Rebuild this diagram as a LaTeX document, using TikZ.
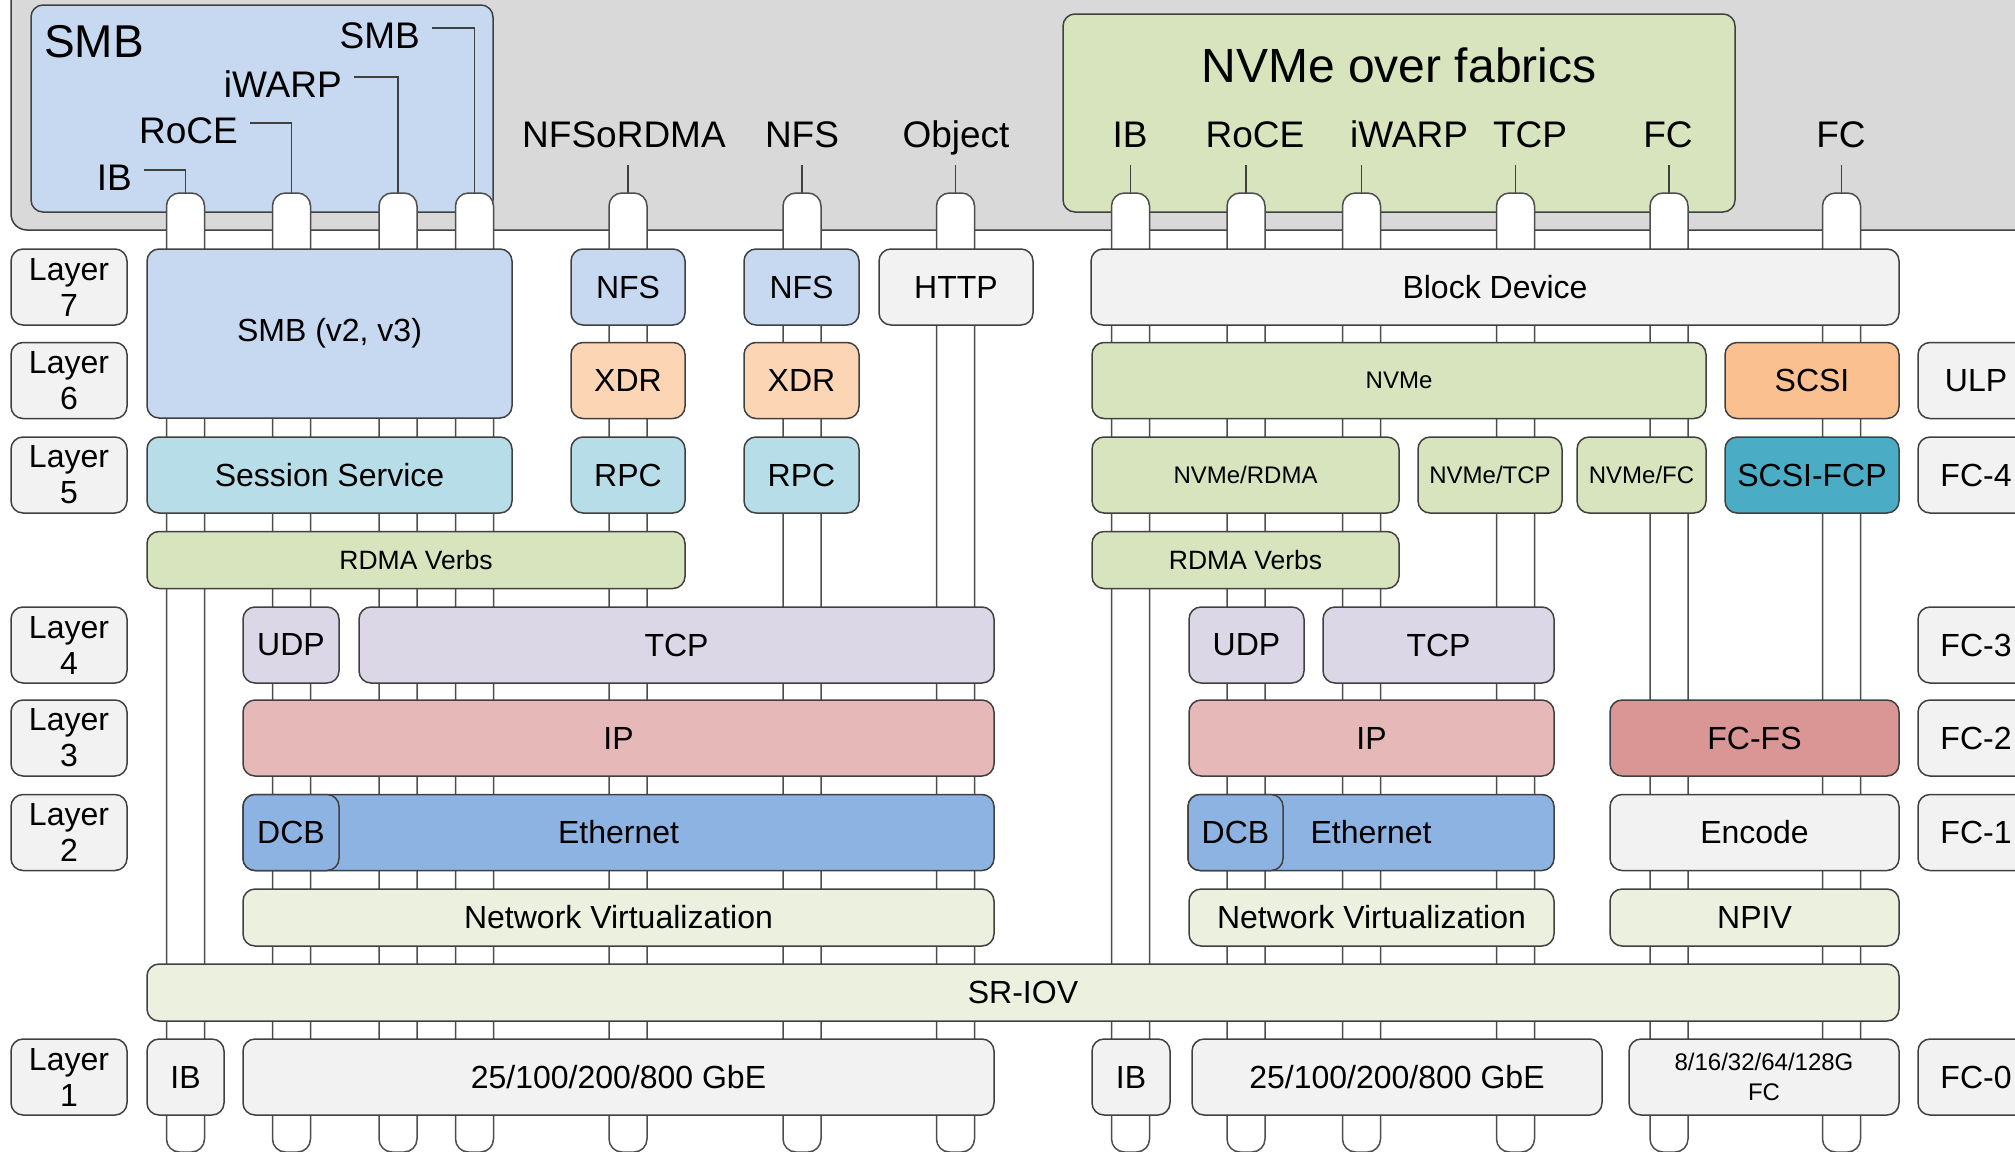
\documentclass[tikz,border=0pt]{standalone}
\usepackage{fontspec}
\setmainfont{Liberation Sans}
\definecolor{bggrey}{HTML}{D9D9D9}
\definecolor{edge}{HTML}{404040}
\definecolor{pipeline}{HTML}{4D4D4D}
\definecolor{smbblue}{HTML}{C6D9F1}
\definecolor{xdrpeach}{HTML}{FCD5B5}
\definecolor{rpccyan}{HTML}{B7DEE8}
\definecolor{verbgreen}{HTML}{D7E4BD}
\definecolor{tcplilac}{HTML}{DCD7E6}
\definecolor{ippink}{HTML}{E6B9B8}
\definecolor{ethblue}{HTML}{8DB3E2}
\definecolor{virtgreen}{HTML}{EBF1DE}
\definecolor{plain}{HTML}{F2F2F2}
\definecolor{scsiorange}{HTML}{FAC090}
\definecolor{fcpteal}{HTML}{4BACC6}
\definecolor{fcfsred}{HTML}{D99694}
\tikzset{
  blk/.style={draw=edge, line width=1.5pt, rounded corners=12pt, minimum height=76pt,
    inner sep=0pt, align=center, font=\fontsize{32}{36}\selectfont},
  slim/.style={minimum height=57pt},
  smalltxt/.style={font=\fontsize{24}{30}\selectfont},
  midtxt/.style={font=\fontsize{26.5}{30}\selectfont},
  lbl/.style={inner sep=0pt, text height=26pt, text depth=0pt, font=\fontsize{37}{40}\selectfont},
  tick/.style={draw=edge, line width=1.5pt},
  pipe/.style={draw=pipeline, line width=1.5pt, fill=white, rounded corners=13pt}
}
\begin{document}
\begin{tikzpicture}[x=1pt, y=-1pt]
\useasboundingbox (0,0) rectangle (2015,1151);
\clip (0,0) rectangle (2015,1151);

\draw[draw=edge, line width=1.5pt, fill=bggrey, rounded corners=16pt] (11,-40) rectangle (2060,230);
\node[blk, fill=smbblue, minimum width=462pt, minimum height=207pt] (smbgrp) at (262,108.5) {};
\node[blk, fill=verbgreen, minimum width=672pt, minimum height=198pt] (nvmeof) at (1399,113) {};
\node[anchor=base west, inner sep=0pt, font=\fontsize{46}{50}\selectfont] (smbtitle) at (44,57) {SMB};
\node[anchor=base, inner sep=0pt, font=\fontsize{48}{52}\selectfont] (nvmetitle) at (1399,82) {NVMe over fabrics};

\node[lbl, anchor=base east] (smbib) at (132,190) {IB};
\node[lbl, anchor=base east] (smbroce) at (238,143) {RoCE};
\node[lbl, anchor=base east] (smbiwarp) at (342,97) {iWARP};
\node[lbl, anchor=base east] (smbsmb) at (420,48) {SMB};
\node[lbl, anchor=base] (nfsrdma) at (624,147) {NFSoRDMA};
\node[lbl, anchor=base] (nfslbl) at (802,147) {NFS};
\node[lbl, anchor=base] (objlbl) at (956,147) {Object};
\node[lbl, anchor=base] (nvib) at (1130,147) {IB};
\node[lbl, anchor=base] (nvroce) at (1255,147) {RoCE};
\node[lbl, anchor=base] (nviwarp) at (1409,147) {iWARP};
\node[lbl, anchor=base] (nvtcplbl) at (1530,147) {TCP};
\node[lbl, anchor=base] (nvfclbl) at (1668,147) {FC};
\node[lbl, anchor=base] (fclbl) at (1841,147) {FC};

\coordinate (t1) at (185.5,193);
\coordinate (t2) at (291.5,193);
\coordinate (t3) at (398,193);
\coordinate (t4) at (474.5,193);
\coordinate (t5) at (628,193);
\coordinate (t6) at (802,193);
\coordinate (t7) at (955.5,193);
\coordinate (t8) at (1130.5,193);
\coordinate (t9) at (1246,193);
\coordinate (t10) at (1361.5,193);
\coordinate (t11) at (1515.5,193);
\coordinate (t12) at (1669,193);
\coordinate (t13) at (1841.5,193);

\draw[tick, shorten <=12pt] ([yshift=7pt]smbib.east) -| (t1);
\draw[tick, shorten <=12pt] ([yshift=7pt]smbroce.east) -| (t2);
\draw[tick, shorten <=12pt] ([yshift=7pt]smbiwarp.east) -| (t3);
\draw[tick, shorten <=12pt] ([yshift=7pt]smbsmb.east) -| (t4);
\draw[tick, shorten <=18pt] (nfsrdma.south -| t5) -- (t5);
\draw[tick, shorten <=18pt] (nfslbl.south -| t6) -- (t6);
\draw[tick, shorten <=18pt] (objlbl.south -| t7) -- (t7);
\draw[tick, shorten <=18pt] (nvib.south -| t8) -- (t8);
\draw[tick, shorten <=18pt] (nvroce.south -| t9) -- (t9);
\draw[tick, shorten <=18pt] (nviwarp.south -| t10) -- (t10);
\draw[tick, shorten <=18pt] (nvtcplbl.south -| t11) -- (t11);
\draw[tick, shorten <=18pt] (nvfclbl.south -| t12) -- (t12);
\draw[tick, shorten <=18pt] (fclbl.south -| t13) -- (t13);

\draw[pipe] (166.5,193) rectangle (204.5,1152);
\draw[pipe] (272.5,193) rectangle (310.5,1152);
\draw[pipe] (379,193) rectangle (417,1152);
\draw[pipe] (455.5,193) rectangle (493.5,1152);
\draw[pipe] (609,193) rectangle (647,1152);
\draw[pipe] (783,193) rectangle (821,1152);
\draw[pipe] (936.5,193) rectangle (974.5,1152);
\draw[pipe] (1111.5,193) rectangle (1149.5,1152);
\draw[pipe] (1227,193) rectangle (1265,1152);
\draw[pipe] (1342.5,193) rectangle (1380.5,1152);
\draw[pipe] (1496.5,193) rectangle (1534.5,1152);
\draw[pipe] (1650,193) rectangle (1688,1152);
\draw[pipe] (1822.5,193) rectangle (1860.5,1152);

\node[blk, fill=plain, minimum width=116pt] (lay7) at (69,287) {Layer\\7};
\node[blk, fill=plain, minimum width=116pt] (lay6) at (69,380.5) {Layer\\6};
\node[blk, fill=plain, minimum width=116pt] (lay5) at (69,475) {Layer\\5};
\node[blk, fill=plain, minimum width=116pt] (lay4) at (69,645) {Layer\\4};
\node[blk, fill=plain, minimum width=116pt] (lay3) at (69,738) {Layer\\3};
\node[blk, fill=plain, minimum width=116pt] (lay2) at (69,832.5) {Layer\\2};
\node[blk, fill=plain, minimum width=116pt] (lay1) at (69,1077) {Layer\\1};

\node[blk, fill=smbblue, minimum width=365pt, minimum height=169pt] (smbv) at (329.5,333.5) {SMB (v2, v3)};
\node[blk, fill=smbblue, minimum width=114pt] (nfs1) at (628,287) {NFS};
\node[blk, fill=xdrpeach, minimum width=114pt] (xdr1) at (628,380.5) {XDR};
\node[blk, fill=rpccyan, minimum width=114pt] (rpc1) at (628,475) {RPC};
\node[blk, fill=rpccyan, minimum width=365pt] (sess) at (329.5,475) {Session Service};
\node[blk, slim, midtxt, fill=verbgreen, minimum width=538pt] (verbs1) at (416,560) {RDMA Verbs};
\node[blk, fill=smbblue, minimum width=115pt] (nfs2) at (801.5,287) {NFS};
\node[blk, fill=xdrpeach, minimum width=115pt] (xdr2) at (801.5,380.5) {XDR};
\node[blk, fill=rpccyan, minimum width=115pt] (rpc2) at (801.5,475) {RPC};
\node[blk, fill=plain, minimum width=154pt] (http) at (956,287) {HTTP};
\node[blk, fill=tcplilac, minimum width=96pt] (udp1) at (291,645) {UDP};
\node[blk, fill=tcplilac, minimum width=635pt] (tcp1) at (676.5,645) {TCP};
\node[blk, fill=ippink, minimum width=751pt] (ip1) at (618.5,738) {IP};
\node[blk, fill=ethblue, minimum width=751pt] (eth1) at (618.5,832.5) {Ethernet};
\node[blk, fill=ethblue, minimum width=96pt] (dcb1) at (291,832.5) {DCB};
\node[blk, slim, fill=virtgreen, minimum width=751pt] (virt1) at (618.5,917.5) {Network Virtualization};
\node[blk, slim, fill=virtgreen, minimum width=1752pt] (sriov) at (1023,992.5) {SR-IOV};
\node[blk, fill=plain, minimum width=77pt] (ib1) at (185.5,1077) {IB};
\node[blk, fill=plain, minimum width=751pt] (gbe1) at (618.5,1077) {25/100/200/800 GbE};

\node[blk, fill=plain, minimum width=808pt] (bdev) at (1495,287) {Block Device};
\node[blk, smalltxt, fill=verbgreen, minimum width=614pt] (nvme) at (1399,380.5) {NVMe};
\node[blk, fill=scsiorange, minimum width=174pt] (scsi) at (1812,380.5) {SCSI};
\node[blk, fill=plain, minimum width=116pt] (ulp) at (1976,380.5) {ULP};
\node[blk, smalltxt, fill=verbgreen, minimum width=307pt] (nvrdma) at (1245.5,475) {NVMe/RDMA};
\node[blk, smalltxt, fill=verbgreen, minimum width=144pt] (nvtcp) at (1490,475) {NVMe/TCP};
\node[blk, smalltxt, fill=verbgreen, minimum width=129pt] (nvfc) at (1641.5,475) {NVMe/FC};
\node[blk, fill=fcpteal, minimum width=174pt] (scsifcp) at (1812,475) {SCSI-FCP};
\node[blk, fill=plain, minimum width=116pt] (fc4) at (1976,475) {FC-4};
\node[blk, slim, midtxt, fill=verbgreen, minimum width=307pt] (verbs2) at (1245.5,560) {RDMA Verbs};
\node[blk, fill=tcplilac, minimum width=115pt] (udp2) at (1246.5,645) {UDP};
\node[blk, fill=tcplilac, minimum width=231pt] (tcp2) at (1438.5,645) {TCP};
\node[blk, fill=plain, minimum width=116pt] (fc3) at (1976,645) {FC-3};
\node[blk, fill=ippink, minimum width=365pt] (ip2) at (1371.5,738) {IP};
\node[blk, fill=fcfsred, minimum width=289pt] (fcfs) at (1754.5,738) {FC-FS};
\node[blk, fill=plain, minimum width=116pt] (fc2) at (1976,738) {FC-2};
\node[blk, fill=ethblue, minimum width=366pt] (eth2) at (1371,832.5) {Ethernet};
\node[blk, fill=ethblue, minimum width=95pt] (dcb2) at (1235.5,832.5) {DCB};
\node[blk, fill=plain, minimum width=289pt] (encode) at (1754.5,832.5) {Encode};
\node[blk, fill=plain, minimum width=116pt] (fc1) at (1976,832.5) {FC-1};
\node[blk, slim, fill=virtgreen, minimum width=365pt] (virt2) at (1371.5,917.5) {Network Virtualization};
\node[blk, slim, fill=virtgreen, minimum width=289pt] (npiv) at (1754.5,917.5) {NPIV};
\node[blk, fill=plain, minimum width=78pt] (ib2) at (1131,1077) {IB};
\node[blk, fill=plain, minimum width=410pt] (gbe2) at (1397,1077) {25/100/200/800 GbE};
\node[blk, smalltxt, fill=plain, minimum width=270pt] (fcphy) at (1764,1077) {8/16/32/64/128G\\FC};
\node[blk, fill=plain, minimum width=116pt] (fc0) at (1976,1077) {FC-0};
\end{tikzpicture}
\end{document}
